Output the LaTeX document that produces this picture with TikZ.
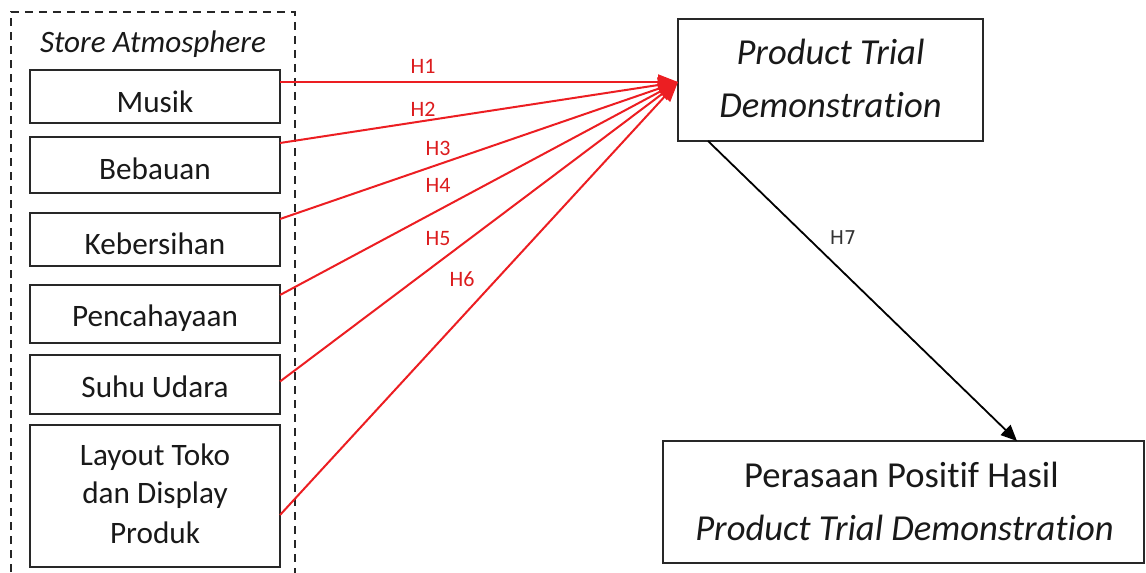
\documentclass[tikz,border=0pt]{standalone}
\usepackage{fontspec}
\setmainfont[Ligatures={NoCommon}]{Carlito}
\newfontfamily\dvsans{DejaVu Sans}
\usetikzlibrary{arrows.meta,calc}
\definecolor{hred}{RGB}{236,30,34}
\definecolor{hlbl}{RGB}{220,28,30}
\definecolor{bord}{RGB}{40,40,40}
\begin{document}
\begin{tikzpicture}[x=0.5pt,y=-0.5pt,
  box/.style={draw=bord,line width=1pt,inner sep=0pt,outer sep=0pt},
  txt/.style={anchor=base,inner sep=0pt,font=\fontsize{15.6}{19.5}\selectfont,text=black!90},
  bigtxt/.style={anchor=base,inner sep=0pt,font=\fontsize{18.3}{26.5}\selectfont,text=black!90},
  bigit/.style={bigtxt,font=\fontsize{18.3}{26.5}\selectfont\itshape},
  hlab/.style={inner sep=0pt,text=hlbl,font=\fontsize{11}{13}\selectfont},
  redarrow/.style={draw=hred,line width=1pt,-{Triangle[length=10pt,width=7.5pt]}},
  blackarrow/.style={draw=black,line width=0.9pt,-{Triangle[length=8pt,width=7pt]}},
  dashbox/.style={draw=black!85,line width=1pt,dash pattern=on 4pt off 3pt}]
\useasboundingbox (0,0) rectangle (1146,573);
% dashed group frame
\draw[dashbox] (11,600) -- (11,12) -- (295,12) -- (295,600);
\node[txt,font=\fontsize{15.6}{19.5}\selectfont\itshape] (sa) at (153,53) {Store Atmosphere};
% left boxes
\node[box,minimum width=125pt,minimum height=26.5pt] (musik) at (155,96.5) {};
\node[box,minimum width=125pt,minimum height=28pt] (bebauan) at (155,165) {};
\node[box,minimum width=125pt,minimum height=26.5pt] (keber) at (155,239.5) {};
\node[box,minimum width=125pt,minimum height=29pt] (penca) at (155,314) {};
\node[box,minimum width=125pt,minimum height=29.5pt] (suhu) at (155,384.5) {};
\node[box,minimum width=125pt,minimum height=71pt] (layout) at (155,496) {};
\node[txt] (tmusik) at (155,112) {Musik};
\node[txt] (tbebauan) at (155,179) {Bebauan};
\node[txt] (tkeber) at (155,254) {Kebersihan};
\node[txt] (tpenca) at (155,326) {Pencahayaan};
\node[txt] (tsuhu) at (155,397) {Suhu Udara};
\node[txt] (tlay1) at (155,465) {Layout Toko};
\node[txt] (tlay2) at (155,503) {dan Display};
\node[txt] (tlay3) at (155,543) {Produk};
% right boxes
\node[box,minimum width=152.5pt,minimum height=61pt] (ptd) at (830.5,80) {};
\node[bigit] (tptd1) at (830.5,64) {Product Trial};
\node[bigit] (tptd2) at (830.5,117) {Demonstration};
\node[box,minimum width=240.5pt,minimum height=61pt] (pph) at (903.5,502) {};
\node[bigtxt] (tpph1) at (901.5,487) {Perasaan Positif Hasil};
\node[bigit] (tpph2) at (904.5,540) {Product Trial Demonstration};
% target point
\coordinate (T) at ($(ptd.west)+(0,2)$);
% red arrows
\draw[redarrow] ($(musik.north east)+(0,12)$) -- (T);
\draw[redarrow] ($(bebauan.north east)+(0,6)$) -- (T);
\draw[redarrow] ($(keber.north east)+(0,6)$) -- (T);
\draw[redarrow] ($(penca.north east)+(0,10)$) -- (T);
\draw[redarrow] ($(suhu.east)+(0,-3)$) -- (T);
\draw[redarrow] ($(layout.east)+(0,19)$) -- (T);
\node[hlab] (h1) at (423,66) {H1};
\node[hlab] (h2) at (423,109) {H2};
\node[hlab] (h3) at (438,148) {H3};
\node[hlab] (h4) at (438,185) {H4};
\node[hlab] (h5) at (438,239) {H5};
\node[hlab] (h6) at (462,279) {H6};
% black arrow
\draw[blackarrow] ($(ptd.south west)+(30,0)$) -- ($(pph.north west)+(354,0)$);
\node[inner sep=0pt,text=black!80,font=\dvsans\fontsize{9.5}{11}\selectfont] (h7) at (843,238) {H7};
\end{tikzpicture}
\end{document}
